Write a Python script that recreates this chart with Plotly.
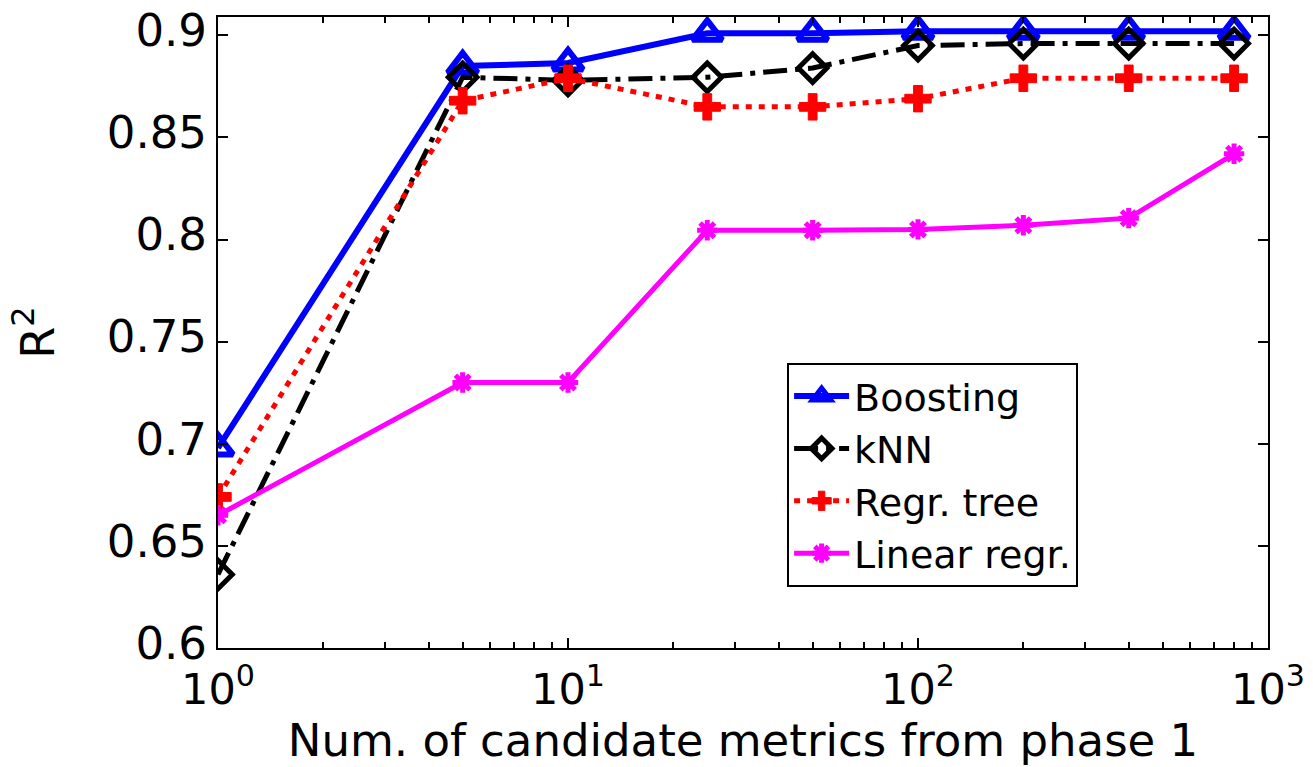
import plotly.graph_objects as go

x_vals = [1, 5, 10, 25, 50, 100, 200, 400, 800]
boosting = [0.698, 0.885, 0.8865, 0.901, 0.901, 0.902, 0.902, 0.902, 0.902]
knn = [0.636, 0.8795, 0.878, 0.8795, 0.884, 0.895, 0.896, 0.896, 0.896]
regr_tree = [0.674, 0.868, 0.879, 0.865, 0.865, 0.869, 0.879, 0.879, 0.879]
linear_regr = [0.665, 0.730, 0.730, 0.8046, 0.8046, 0.805, 0.807, 0.8105, 0.842]

x_tickvals = [1, 10, 100, 1000]
x_ticktext = ["10<sup>0</sup>", "10<sup>1</sup>", "10<sup>2</sup>", "10<sup>3</sup>"]
x_minor = [m * d for d in (1, 10, 100) for m in range(2, 10)]
y_tickvals = [0.6, 0.65, 0.7, 0.75, 0.8, 0.85, 0.9]
y_ticktext = ["0.6", "0.65", "0.7", "0.75", "0.8", "0.85", "0.9"]

FONT = "DejaVu Sans"

fig = go.Figure()
fig.add_trace(go.Scatter(
    x=x_vals, y=boosting, name="Boosting", mode="lines+markers",
    line=dict(color="#0000ff", width=6),
    marker=dict(symbol="triangle-up-open", size=26, color="#0000ff",
                line=dict(color="#0000ff", width=6)),
))
fig.add_trace(go.Scatter(
    x=x_vals, y=knn, name="kNN", mode="lines+markers",
    line=dict(color="#000000", width=5, dash="24px,8px,5px,8px"),
    marker=dict(symbol="diamond-open", size=22, color="#000000",
                line=dict(color="#000000", width=5)),
))
fig.add_trace(go.Scatter(
    x=x_vals, y=regr_tree, name="Regr. tree", mode="lines+markers",
    line=dict(color="#ff0000", width=5, dash="6px,7px"),
    marker=dict(symbol="cross", size=22, color="#ff0000",
                line=dict(color="#ff0000", width=1)),
))
fig.add_trace(go.Scatter(
    x=x_vals, y=linear_regr, name="Linear regr.", mode="lines+markers",
    line=dict(color="#ff00ff", width=5),
    marker=dict(symbol="asterisk-open", size=17, color="#ff00ff",
                line=dict(color="#ff00ff", width=5)),
))

fig.update_layout(
    width=1313, height=767,
    margin=dict(l=218, r=45, t=17, b=119, autoexpand=False),
    paper_bgcolor="white", plot_bgcolor="white",
    font=dict(family=FONT, size=46, color="#000000"),
    showlegend=True,
    legend=dict(
        x=0.542, y=0.452, xanchor="left", yanchor="top",
        bgcolor="white", bordercolor="#000000", borderwidth=2,
        font=dict(family=FONT, size=38, color="#000000"),
        itemwidth=55, tracegroupgap=0,
    ),
)
fig.update_xaxes(
    type="log", range=[0, 3],
    tickmode="array", tickvals=x_tickvals, ticktext=x_ticktext,
    ticks="inside", ticklen=10, tickwidth=2, tickcolor="#000000",
    ticklabelstandoff=2,
    minor=dict(tickmode="array", tickvals=x_minor, ticks="inside",
               ticklen=6, tickwidth=1.5, tickcolor="#000000", showgrid=False),
    showline=True, linewidth=2, linecolor="#000000", mirror="allticks",
    showgrid=False, zeroline=False,
    title=dict(text="Num. of candidate metrics from phase 1", standoff=9,
               font=dict(family=FONT, size=45)),
    tickfont=dict(family=FONT, size=43),
)
fig.update_yaxes(
    range=[0.6, 0.909],
    tickmode="array", tickvals=y_tickvals, ticktext=y_ticktext,
    ticks="inside", ticklen=10, tickwidth=2, tickcolor="#000000",
    ticklabelshift=-5,
    showline=True, linewidth=2, linecolor="#000000", mirror="allticks",
    showgrid=False, zeroline=False,
    title=dict(text="R<sup>2</sup>", standoff=38, font=dict(family=FONT, size=46)),
    tickfont=dict(family=FONT, size=45),
)

fig.write_html("out.html")
